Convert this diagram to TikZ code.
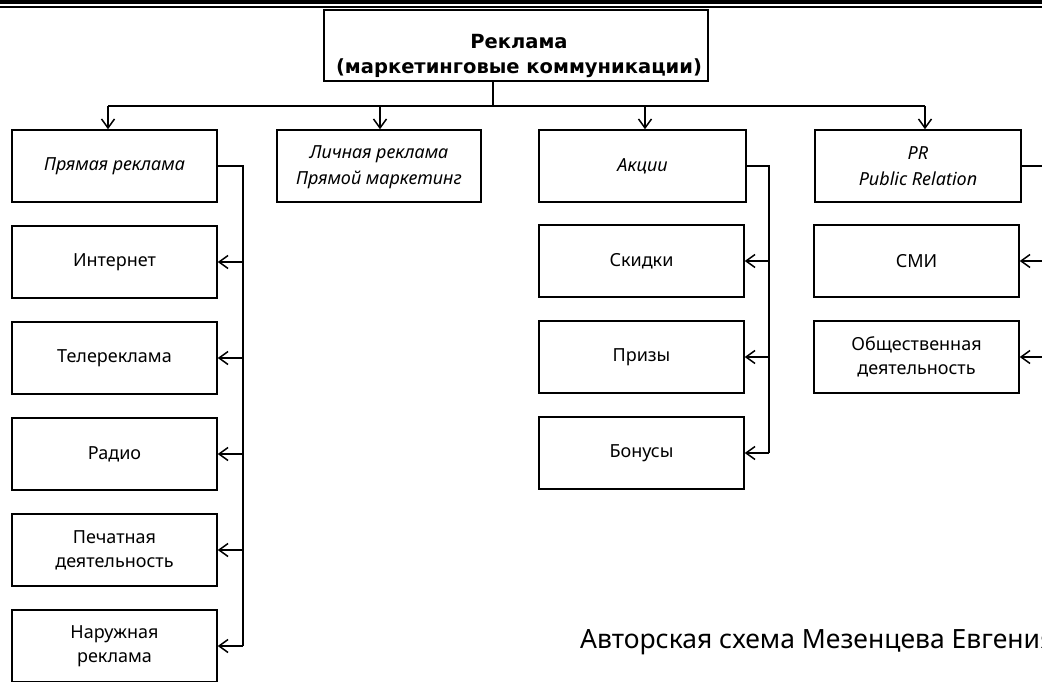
\documentclass[tikz,border=0pt]{standalone}
\usepackage{fontspec}
\setmainfont{Noto Sans}
\newfontfamily\titlefont{DejaVu Sans}
\usetikzlibrary{arrows.meta}
\begin{document}
\begin{tikzpicture}[x=1pt,y=-1pt,
  ln/.style={line width=1.5pt},
  box/.style={draw, line width=1.5pt, inner sep=0pt, align=center,
    font=\fontsize{18}{24}\selectfont, minimum height=72pt},
  ibox/.style={box, font=\itshape\fontsize{18}{26}\selectfont},
  topbox/.style={draw, line width=1.5pt, inner sep=0pt, minimum height=71pt, minimum width=384pt},
  toptext/.style={inner sep=0pt, align=center, font=\titlefont\bfseries\fontsize{19.5}{25}\selectfont},
  arr/.style={line width=1.5pt, -{Straight Barb[length=9pt,width=13pt,line width=1.5pt]}},
]
\clip (0,0) rectangle (1042,682);
\fill[white] (0,0) rectangle (1042,682);
% top double rule
\fill[black] (0,0) rectangle (1042,4.5);
\fill[black] (0,6.5) rectangle (1042,8);

\node[topbox] (top) at (516,45.5) {};
\node[toptext] (toptxt) at (519,56) {Реклама\\(маркетинговые коммуникации)};

% first row
\node[ibox, minimum width=205pt] (a1) at (114.5,166) {Прямая реклама};
\node[ibox, minimum width=204pt] (a2) at (379,166) {\rule{0pt}{16pt}Личная реклама\\Прямой маркетинг};
\node[ibox, minimum width=207pt] (a3) at (642.5,166) {Акции};
\node[ibox, minimum width=206pt] (a4) at (918,166) {PR\\Public Relation};

% left column
\node[box, minimum width=205pt] (l1) at (114.5,262) {Интернет};
\node[box, minimum width=205pt] (l2) at (114.5,358) {Телереклама};
\node[box, minimum width=205pt] (l3) at (114.5,454) {Радио};
\node[box, minimum width=205pt] (l4) at (114.5,550) {Печатная\\деятельность};
\node[box, minimum width=205pt] (l5) at (114.5,646) {Наружная\\реклама};

% middle column
\node[box, minimum width=205pt] (m1) at (641.5,261) {Скидки};
\node[box, minimum width=205pt] (m2) at (641.5,357) {Призы};
\node[box, minimum width=205pt] (m3) at (641.5,453) {Бонусы};

% right column
\node[box, minimum width=205pt] (r1) at (916.5,261) {СМИ};
\node[box, minimum width=205pt] (r2) at (916.5,357) {Общественная\\деятельность};

% caption
\node[anchor=base west, inner sep=0pt, font=\fontsize{26.5}{30}\selectfont] (cap) at (580,648) {Авторская схема Мезенцева Евгения};

% bus
\coordinate (tp) at (493,106);
\coordinate (b1) at (108,106);
\coordinate (b2) at (380,106);
\coordinate (b3) at (645,106);
\coordinate (b4) at (925,106);
\draw[ln] (top.south -| tp) -- (tp);
\draw[ln] (b1) -- (b4);
\draw[arr] (b1) -- (b1 |- a1.north);
\draw[arr] (b2) -- (b2 |- a2.north);
\draw[arr] (b3) -- (b3 |- a3.north);
\draw[arr] (b4) -- (b4 |- a4.north);

% left spine
\coordinate (sl) at (243,166);
\draw[ln] (a1.east) -- (sl) -- (sl |- l5.east);
\foreach \n in {l1,l2,l3,l4,l5} \draw[arr] (sl |- \n.east) -- (\n.east);

% middle spine
\coordinate (sm) at (769,166);
\draw[ln] (a3.east) -- (sm) -- (sm |- m3.east);
\foreach \n in {m1,m2,m3} \draw[arr] (sm |- \n.east) -- (\n.east);

% right spine (beyond the edge)
\coordinate (sr) at (1052,166);
\draw[ln] (a4.east) -- (sr) -- (sr |- r2.east);
\foreach \n in {r1,r2} \draw[arr] (sr |- \n.east) -- (\n.east);
\end{tikzpicture}
\end{document}
